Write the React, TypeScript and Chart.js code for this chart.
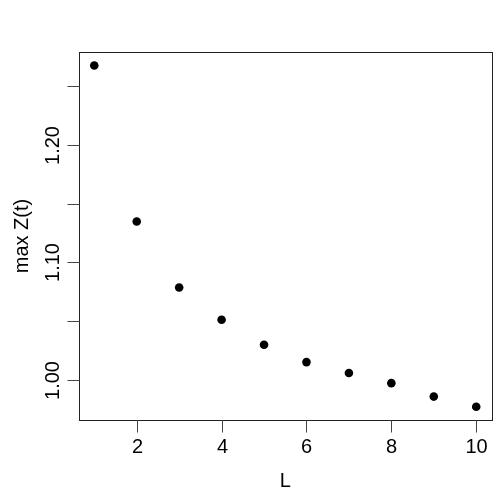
import React, { useEffect, useRef } from "react";
import { Chart, registerables } from "chart.js";

Chart.register(...registerables);

const L_VALUES = [1, 2, 3, 4, 5, 6, 7, 8, 9, 10];
const MAX_Z = [1.2673, 1.1348, 1.0787, 1.0513, 1.030, 1.0153, 1.006, 0.9974, 0.986, 0.9773];
const X_TICKS = [2, 4, 6, 8, 10];
const X_TICK_LABELS = ["2", "4", "6", "8", "10"];
const Y_TICKS = [1.0, 1.05, 1.1, 1.15, 1.2, 1.25];
const Y_TICK_LABELS = ["1.00", "", "1.10", "", "1.20", ""];
const X_TITLE = "L";
const Y_TITLE = "max Z(t)";

const FONT = "20px 'Liberation Sans', Arial, sans-serif";

const axesPlugin = {
  id: "rAxes",
  afterDraw(chart: any) {
    const { ctx, chartArea } = chart;
    const xs = chart.scales.x;
    const ys = chart.scales.y;
    ctx.save();
    // box
    ctx.strokeStyle = "#222";
    ctx.lineWidth = 1;
    ctx.strokeRect(
      Math.round(chartArea.left) + 0.5,
      Math.round(chartArea.top) + 0.5,
      Math.round(chartArea.right - chartArea.left),
      Math.round(chartArea.bottom - chartArea.top)
    );
    const tick = 12;
    ctx.strokeStyle = "#444";
    ctx.fillStyle = "#000";
    ctx.font = FONT;
    // x axis ticks
    const bottom = Math.round(chartArea.bottom) + 0.5;
    ctx.textAlign = "center";
    ctx.textBaseline = "middle";
    X_TICKS.forEach((v, i) => {
      const px = Math.round(xs.getPixelForValue(v)) + 0.5;
      ctx.beginPath();
      ctx.moveTo(px, bottom);
      ctx.lineTo(px, bottom + tick);
      ctx.stroke();
      ctx.fillText(X_TICK_LABELS[i], px, 447);
    });
    // y axis ticks
    const left = Math.round(chartArea.left) + 0.5;
    Y_TICKS.forEach((v, i) => {
      const py = Math.round(ys.getPixelForValue(v)) + 0.5;
      ctx.beginPath();
      ctx.moveTo(left, py);
      ctx.lineTo(left - tick, py);
      ctx.stroke();
      if (Y_TICK_LABELS[i]) {
        ctx.save();
        ctx.translate(53, py);
        ctx.rotate(-Math.PI / 2);
        ctx.fillText(Y_TICK_LABELS[i], 0, 0);
        ctx.restore();
      }
    });
    // titles
    const cx = (chartArea.left + chartArea.right) / 2;
    ctx.fillText(X_TITLE, cx, 481);
    const cy = (chartArea.top + chartArea.bottom) / 2;
    ctx.save();
    ctx.translate(22, cy);
    ctx.rotate(-Math.PI / 2);
    ctx.fillText(Y_TITLE, 0, 0);
    ctx.restore();
    ctx.restore();
  },
};

export default function App() {
  const ref = useRef<HTMLCanvasElement | null>(null);
  useEffect(() => {
    if (!ref.current) return;
    const chart = new Chart(ref.current, {
      type: "scatter",
      data: {
        datasets: [
          {
            data: L_VALUES.map((x, i) => ({ x, y: MAX_Z[i] })),
            backgroundColor: "#000",
            borderColor: "#000",
            pointRadius: 4.3,
            pointBorderWidth: 0,
          },
        ],
      },
      options: {
        animation: false,
        responsive: false,
        maintainAspectRatio: false,
        layout: { padding: { left: 79, top: 52, right: 8.5, bottom: 80 } },
        plugins: { legend: { display: false }, tooltip: { enabled: false } },
        scales: {
          x: { type: "linear", display: false, min: 0.64, max: 10.36 },
          y: { type: "linear", display: false, min: 0.9661, max: 1.2788 },
        },
      },
      plugins: [axesPlugin],
    });
    return () => chart.destroy();
  }, []);
  return (
    <div style={{ position: "fixed", left: 0, top: 0, width: 500, height: 500, background: "#fff" }}>
      <canvas ref={ref} width={500} height={500} style={{ width: 500, height: 500 }} />
    </div>
  );
}
